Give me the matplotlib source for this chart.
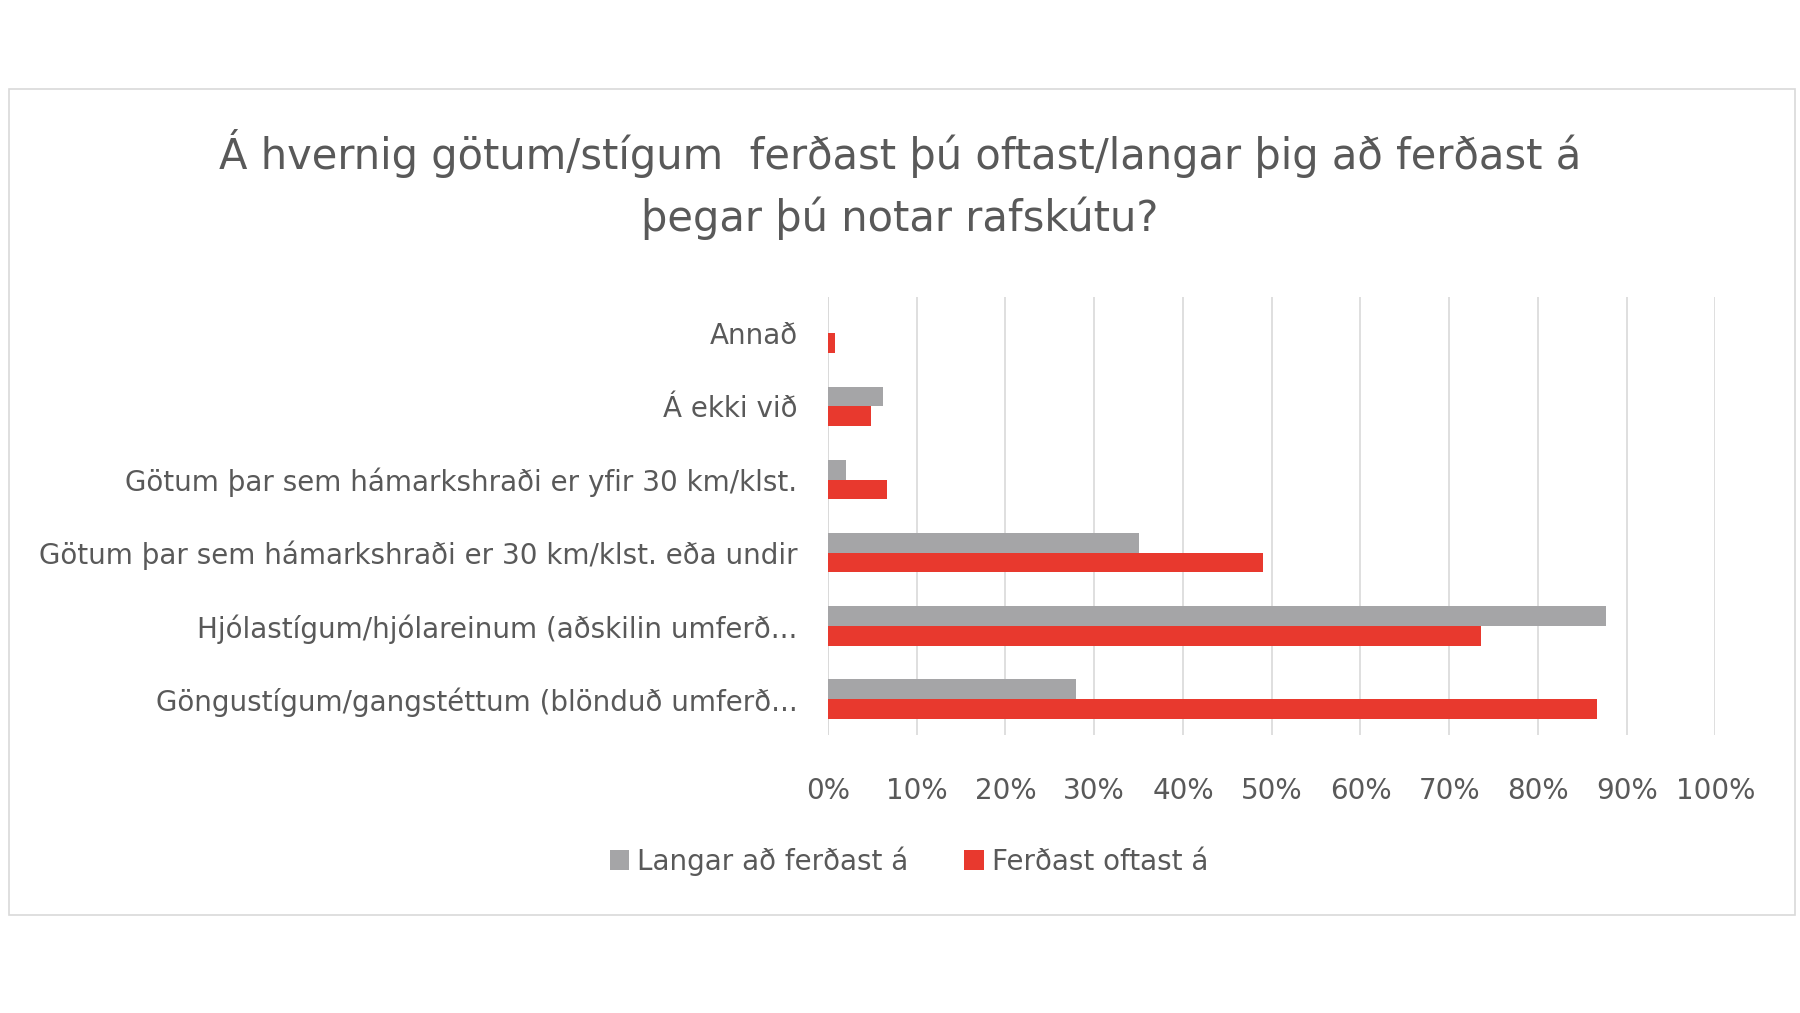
import matplotlib
matplotlib.use("Agg")
import matplotlib.pyplot as plt
import numpy as np
from matplotlib.patches import Rectangle

categories = ["Annað", "Á ekki við",
              "Götum þar sem hámarkshraði er yfir 30 km/klst.",
              "Götum þar sem hámarkshraði er 30 km/klst. eða undir",
              "Hjólastígum/hjólareinum (aðskilin umferð...",
              "Göngustígum/gangstéttum (blönduð umferð..."]
langar = [0.0, 6.2, 2.0, 35.0, 87.7, 28.0]
ferdast = [0.8, 4.8, 6.6, 49.0, 73.6, 86.7]
ticks = [0, 10, 20, 30, 40, 50, 60, 70, 80, 90, 100]

fig = plt.figure(figsize=(18, 10.13), dpi=100)
fig.patches.append(Rectangle((0.005, 0.097), 0.992, 0.815, transform=fig.transFigure,
                             fill=False, edgecolor="#d9d9d9", lw=1.2))
ax = fig.add_axes([0.46, 0.274, 0.493, 0.433])
y = np.arange(len(categories))
h = 0.27
ax.barh(y - h/2, langar, h, color="#a5a5a7", label="Langar að ferðast á")
ax.barh(y + h/2, ferdast, h, color="#e8392e", label="Ferðast oftast á")
ax.set_ylim(len(categories) - 0.5, -0.5)
ax.set_xlim(0, 100)
ax.set_xticks(ticks)
ax.set_xticklabels([f"{t}%" for t in ticks])
ax.set_yticks(y)
ax.set_yticklabels(categories)
ax.tick_params(length=0, labelsize=20, colors="#595959")
ax.tick_params(axis="x", pad=30)
ax.tick_params(axis="y", pad=22)
ax.grid(axis="x", color="#d9d9d9", lw=1.2)
ax.set_axisbelow(True)
for s in ax.spines.values():
    s.set_visible(False)
ax.axvline(0, color="#d9d9d9", lw=1.2, zorder=0)
fig.text(0.5, 0.848, "Á hvernig götum/stígum  ferðast þú oftast/langar þig að ferðast á",
         ha="center", va="center", fontsize=30, color="#595959")
fig.text(0.5, 0.785, "þegar þú notar rafskútu?", ha="center", va="center",
         fontsize=30, color="#595959")
fig.legend(loc="center", bbox_to_anchor=(0.505, 0.15), ncol=2, frameon=False,
           fontsize=20, labelcolor="#595959", handlelength=0.7, handleheight=0.7,
           columnspacing=2.0, handletextpad=0.3)
fig.savefig("out.png", dpi=100, facecolor="white")
